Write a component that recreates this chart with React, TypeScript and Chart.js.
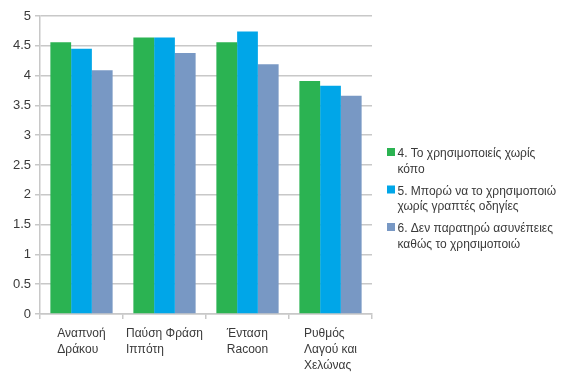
import React, { useEffect, useRef } from "react";
import { Chart, registerables } from "chart.js";

Chart.register(...registerables);

const categories: string[][] = [
  ["Αναπνοή", "Δράκου"],
  ["Παύση Φράση", "Ιππότη"],
  ["Ένταση", "Racoon"],
  ["Ρυθμός", "Λαγού και", "Χελώνας"],
];

const seriesNames: string[][] = [
  ["4. Το χρησιμοποιείς χωρίς", "κόπο"],
  ["5. Μπορώ να το χρησιμοποιώ", "χωρίς γραπτές οδηγίες"],
  ["6. Δεν παρατηρώ ασυνέπειες", "καθώς το χρησιμοποιώ"],
];

const effortless = [4.56, 4.64, 4.56, 3.91];
const noInstructions = [4.45, 4.64, 4.74, 3.83];
const consistency = [4.09, 4.38, 4.19, 3.66];

const seriesColors = ["#2bb352", "#00a6e8", "#7898c4"];

const FONT = "'Liberation Sans', Arial, sans-serif";
const TEXT = "#3a3a3a";
const GRID = "#c8c8c8";

// Category labels: each block centred under its group, lines left-aligned.
const categoryLabels = {
  id: "categoryLabels",
  afterDraw(chart: Chart) {
    const x = chart.scales.x;
    const ctx = chart.ctx;
    ctx.save();
    ctx.font = `12px ${FONT}`;
    ctx.fillStyle = TEXT;
    ctx.textAlign = "left";
    ctx.textBaseline = "alphabetic";
    categories.forEach((lines, i) => {
      const cx = x.getPixelForValue(i);
      const w = Math.max(...lines.map((l) => ctx.measureText(l).width));
      const left = cx - w / 2;
      lines.forEach((line, j) => {
        ctx.fillText(line, left, chart.chartArea.bottom + 23 + j * 16);
      });
    });
    ctx.restore();
  },
};

// Legend to the right of the plot with two-line entries.
const sideLegend = {
  id: "sideLegend",
  afterDraw(chart: Chart) {
    const ctx = chart.ctx;
    const area = chart.chartArea;
    const left = area.right + 15;
    const firstBaseline = area.top + 141;
    ctx.save();
    ctx.font = `12px ${FONT}`;
    ctx.textAlign = "left";
    ctx.textBaseline = "alphabetic";
    seriesNames.forEach((lines, i) => {
      const base = firstBaseline + i * 37.5;
      ctx.fillStyle = seriesColors[i];
      ctx.fillRect(left, base - 9, 8, 8);
      ctx.fillStyle = TEXT;
      lines.forEach((line, j) => {
        ctx.fillText(line, left + 10.5, base + j * 15.5);
      });
    });
    ctx.restore();
  },
};

export default function App() {
  const canvasRef = useRef<HTMLCanvasElement | null>(null);

  useEffect(() => {
    document.body.style.margin = "0";
    const canvas = canvasRef.current;
    if (!canvas) return;
    const data = [effortless, noInstructions, consistency];
    const chart = new Chart(canvas, {
      type: "bar",
      data: {
        labels: categories.map((c) => c.join(" ")),
        datasets: data.map((values, i) => ({
          label: seriesNames[i].join(" "),
          data: values,
          backgroundColor: seriesColors[i],
          borderWidth: 0,
          categoryPercentage: 0.75,
          barPercentage: 1,
        })),
      },
      options: {
        animation: false,
        responsive: false,
        maintainAspectRatio: false,
        layout: { padding: { top: 16, bottom: 57, left: 0, right: 198 } },
        plugins: {
          tooltip: { enabled: false },
          legend: { display: false },
        },
        scales: {
          x: {
            offset: true,
            grid: {
              offset: true,
              drawOnChartArea: true,
              color: (ctx: any) => (ctx.index === categories.length ? GRID : "rgba(0,0,0,0)"),
              tickColor: GRID,
              tickLength: 5,
              lineWidth: 1.5,
            },
            border: { color: GRID, width: 1.5 },
            ticks: { display: false },
          },
          y: {
            min: 0,
            max: 5,
            afterFit: (scale: any) => {
              scale.width = 40;
            },
            ticks: {
              stepSize: 0.5,
              color: TEXT,
              font: { family: FONT, size: 13 },
              padding: 4,
              callback: (v: any) => String(v),
            },
            grid: { color: GRID, tickColor: GRID, tickLength: 5, lineWidth: 1.5 },
            border: { color: GRID, width: 1.5 },
          },
        },
      },
      plugins: [categoryLabels, sideLegend],
    });
    return () => chart.destroy();
  }, []);

  return (
    <div style={{ width: 570, height: 376 }}>
      <canvas ref={canvasRef} width={570} height={376} />
    </div>
  );
}
